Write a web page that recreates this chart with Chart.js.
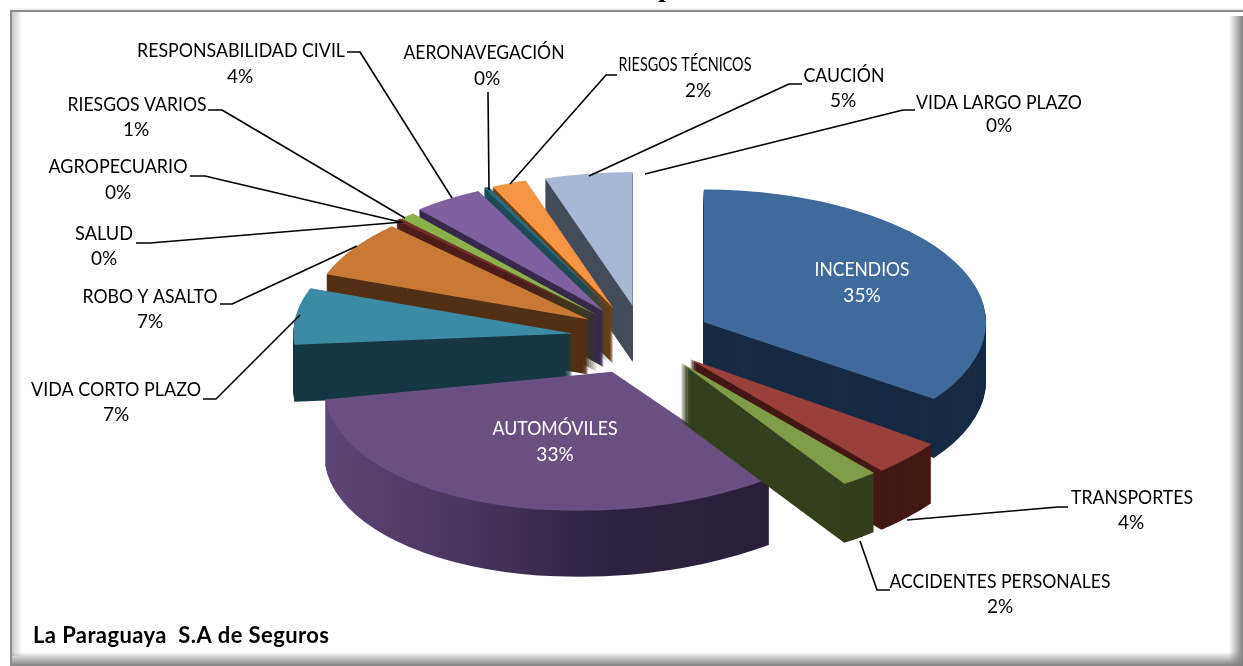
<!DOCTYPE html>
<html><head><meta charset="utf-8">
<style>html,body{margin:0;padding:0;background:#fff}canvas{display:block}</style>
<script src="https://cdn.jsdelivr.net/npm/chart.js@4"></script>
</head><body><canvas id="c" width="1243" height="666"></canvas>
<script>
const categories=["INCENDIOS","TRANSPORTES","ACCIDENTES PERSONALES","AUTOMÓVILES","VIDA CORTO PLAZO","ROBO Y ASALTO","SALUD","AGROPECUARIO","RIESGOS VARIOS","RESPONSABILIDAD CIVIL","AERONAVEGACIÓN","RIESGOS TÉCNICOS","CAUCIÓN","VIDA LARGO PLAZO"];
const shares=[35,4,2,33,7,7,0,0.3,0.9,4,0.3,2,5,0];
const percentLabels=["35%","4%","2%","33%","7%","7%","0%","0%","1%","4%","0%","2%","5%","0%"];
const topColors=["#3F6A9C","#9A403C","#7F9C48","#6A4F82","#3A8BA3","#C77935","#2C4D75","#772C2A","#8DB04D","#7F60A0","#276A7C","#F59543","#A8B7D4","#CE8E8D"];
const sideColors=["#182A42","#431815","#343F1D","#2B2038","#173843","#523016","#1B2F48","#4F1E1B","#3C4C20","#382A4A","#1C4A56","#6B3F14","#444C5A","#5A3E3E"];
const drawOrder=[13,12,11,10,9,8,7,6,5,4,0,1,3,2];
const labelBoxes=[[862,270,296,862],[1132,498,523,1131],[1000,582,607,1000],[555,429,455,555],[116,390,415,116],[150,297,322,150],[104,234,259,104],[118,167,193,118],[137,105,130,136],[241,51,77,240],[484,53,79,487],[685,65,91,698],[844,76,101,843],[999,103,126,999]];
const labelWidths=[95,122,221,125,170,135,58,139,139,208,161,133,81,166];
const leaders=[null,[[907,520],[1058,507],[1068,507]],[[860,541],[877,590],[890,590]],null,[[300,315],[216,399],[203,399]],[[357,246],[232,304],[220,304]],[[403,222],[150,243],[136,243]],[[400,222],[205,176],[190,176]],[[405,218],[222,110],[208,110]],[[452,198],[360,52],[347,52]],[[489,190],[488,92]],[[510,184],[606,75],[617,75]],[[589,176],[789,84],[802,84]],[[645,174],[903,110],[915,110]]];
const geo={cx:640,cy:338,rx:285,ry:134,explode:73,tilt:0.47};
const sliceNudge=[[-1,0],[-4,-2],[-3,-3],[4,3],[5,0],[10,0],[8,2],[8,2],[7,3],[4,2],[1,1],[0,2],[4,2],[0,0]];
const sliceScale=[0.99,1.04,1.05,1.01,0.98,0.98,1,1,1,1,1,1,1,1];
const sliceDepth=[59,59,59,66,57,55,56,56,56,56,56,56,56,56];
const sliceRy=[1,1.05,1.03,1.02,1,1,1,1,1,1,1,1,1,1];
const sliceShear=[0,0,0,-0.055,0,0,0,0,0,0,0,0,0,0];

const pie3d={id:'pie3d',
 beforeDraw(chart){
  const g=chart.ctx;g.save();
  g.fillStyle='#fff';g.fillRect(0,0,1243,666);
  g.fillStyle='#f2f2f2';g.fillRect(10,8,1233,2);
  g.fillStyle='#8c8c8c';g.fillRect(10,10,1233,2);
  let lg=g.createLinearGradient(12,0,22,0);lg.addColorStop(0,'#c8c8c8');lg.addColorStop(1,'#fff');
  g.fillStyle=lg;g.fillRect(12,12,10,644);
  g.fillStyle='#8c8c8c';g.fillRect(10,10,2,656);
  let rg=g.createLinearGradient(1229,0,1243,0);rg.addColorStop(0,'#fff');rg.addColorStop(1,'#808080');
  g.fillStyle=rg;g.fillRect(1229,16,14,650);
  let bg=g.createLinearGradient(0,652,0,666);bg.addColorStop(0,'rgba(128,128,128,0)');bg.addColorStop(1,'#808080');
  g.fillStyle=bg;g.fillRect(12,652,1231,14);
  g.restore();
 },
 beforeDatasetsDraw(chart){
  const g=chart.ctx,arcs=chart.getDatasetMeta(0).data;
  const paint=(arc,i,depth,fill)=>{
   const k=sliceScale[i],s=k*geo.rx/arc.outerRadius,mid=(arc.startAngle+arc.endAngle)/2;
   const saved=arc.options;
   arc.options=Object.assign({},saved,{backgroundColor:fill,borderWidth:0});
   g.save();
   g.translate(geo.cx+Math.cos(mid)*geo.explode+sliceNudge[i][0],geo.cy+Math.sin(mid)*geo.explode*geo.tilt+sliceNudge[i][1]+depth);
   g.transform(1,sliceShear[i],0,1,0,0);
   g.scale(s,k*sliceRy[i]*geo.ry/arc.outerRadius);
   g.translate(-arc.x,-arc.y);
   arc.draw(g);
   g.restore();
   arc.options=saved;
  };
  drawOrder.forEach(i=>{
   const arc=arcs[i];
   let fill=sideColors[i];
   if(i===3){
     const lx=arc.x-arc.outerRadius, rx=arc.x+arc.outerRadius*0.55;
     const gr=g.createLinearGradient(lx,0,rx,0);
     gr.addColorStop(0,'#5E4576');gr.addColorStop(0.3,'#4A365E');gr.addColorStop(0.65,'#2E2240');gr.addColorStop(1,'#2A1F38');
     fill=gr;
   }
   for(let d=sliceDepth[i];d>=1;d--)paint(arc,i,d,fill);
   paint(arc,i,0,topColors[i]);
  });
  return false;
 },
 afterDraw(chart){
  const g=chart.ctx;g.save();
  g.strokeStyle='#000';g.lineWidth=1.6;g.lineJoin='round';
  leaders.forEach(p=>{if(!p)return;g.beginPath();p.forEach((q,k)=>k?g.lineTo(q[0],q[1]):g.moveTo(q[0],q[1]));g.stroke();});
  g.textAlign='center';g.textBaseline='middle';
  g.font='19px Lato';
  categories.forEach((t,i)=>{
   const [x,y1,y2,x2]=labelBoxes[i];
   g.fillStyle=(i===0||i===3)?'#fff':'#000';
   g.fillText(t,x,y1,labelWidths[i]);
   g.fillText(percentLabels[i],x2,y2);
  });
  g.textAlign='left';g.font='bold 22px Lato';g.fillStyle='#000';
  g.letterSpacing='0.4px';
  g.fillText('La Paraguaya  S.A de Seguros',33,636,300);
  g.letterSpacing='0px';
  g.textAlign='center';g.textBaseline='alphabetic';g.font='bold 28px "Liberation Serif"';
  g.fillText('p',666,-4);
  g.restore();
 }
};
new Chart(document.getElementById('c'),{type:'pie',
 data:{labels:categories,datasets:[{data:shares,backgroundColor:topColors,borderWidth:0}]},
 options:{responsive:false,animation:false,events:[],layout:{padding:0},plugins:{legend:{display:false},tooltip:{enabled:false}}},
 plugins:[pie3d]});
</script></body></html>
